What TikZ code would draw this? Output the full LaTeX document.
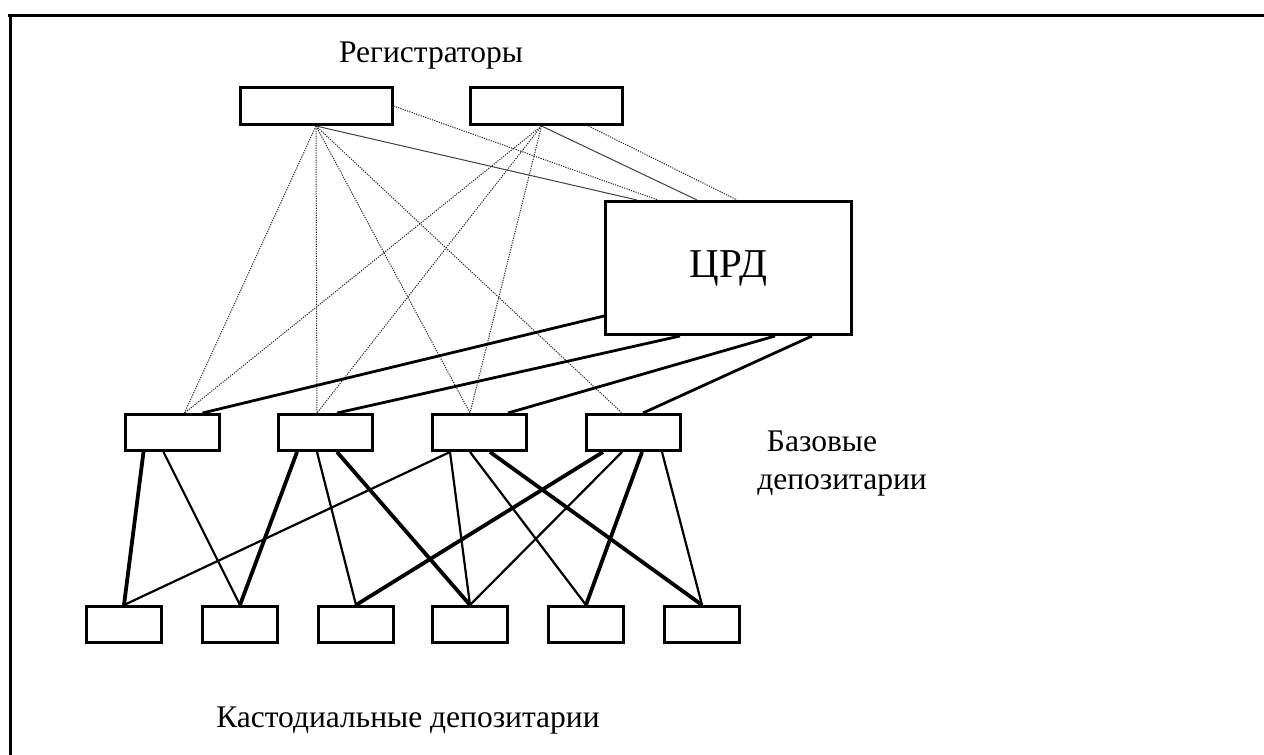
\documentclass[tikz,border=0pt]{standalone}
\usepackage{fontspec}
\setmainfont{Liberation Serif}
\begin{document}
\begin{tikzpicture}[x=1pt,y=-1pt,
  bx/.style={draw, line width=3pt, inner sep=0pt, fill=white},
  reg/.style={bx, minimum width=152pt, minimum height=37pt},
  crd/.style={bx, minimum width=246pt, minimum height=133pt},
  base/.style={bx, minimum width=94pt, minimum height=36pt},
  cust/.style={bx, minimum width=75pt, minimum height=36pt},
  lbl/.style={anchor=base, inner sep=0pt, font=\fontsize{31.5}{37}\selectfont},
  dotl/.style={line width=1pt, black!85, dash pattern=on 1.2pt off 1.2pt},
  faint/.style={line width=1pt, black!75},
  crdl/.style={line width=2.8pt},
  thinl/.style={line width=2.2pt},
  thickl/.style={line width=3.8pt},
  frame/.style={line width=3pt}
]
\useasboundingbox (0,0) rectangle (1264,755);
% frame
\coordinate (ftl) at (10,15);
\coordinate (ftr) at (1264,15);
\coordinate (fbl) at (10,755);
\draw[frame] ([xshift=-2pt]ftl) -- (ftr);
\draw[frame] (ftl) -- (fbl);

% labels
\node[lbl] (lreg) at (431,62) {Регистраторы};
\node[lbl] (lbas1) at (822,451) {Базовые};
\node[lbl] (lbas2) at (842,489) {депозитарии};
\node[lbl] (lcust) at (408,727) {Кастодиальные депозитарии};

% nodes
\node[reg] (r1) at (316,106) {};
\node[reg] (r2) at (546.5,106) {};
\node[crd, font=\fontsize{41}{48}\selectfont] (crd) at (728.5,268) {ЦРД};
\node[base] (b1) at (172,432.5) {};
\node[base] (b2) at (325.5,432.5) {};
\node[base] (b3) at (479.5,432.5) {};
\node[base] (b4) at (633.5,432.5) {};
\node[cust] (c1) at (124,624.5) {};
\node[cust] (c2) at (240,624.5) {};
\node[cust] (c3) at (356,624.5) {};
\node[cust] (c4) at (470,624.5) {};
\node[cust] (c5) at (586,624.5) {};
\node[cust] (c6) at (702,624.5) {};

% registrars to base (dotted)
\draw[dotl] (r1.south) -- ([xshift=61pt]b1.north west);
\draw[dotl] (r1.south) -- ([xshift=40pt]b2.north west);
\draw[dotl] (r1.south) -- ([xshift=39pt]b3.north west);
\draw[dotl] (r1.south) -- ([xshift=37pt]b4.north west);
\draw[dotl] ([xshift=-5pt]r2.south) -- ([xshift=61pt]b1.north west);
\draw[dotl] ([xshift=-5pt]r2.south) -- ([xshift=40pt]b2.north west);
\draw[dotl] ([xshift=-5pt]r2.south) -- ([xshift=39pt]b3.north west);
% registrars to CRD
\draw[faint] (r1.south) -- ([xshift=33pt]crd.north west);
\draw[dotl] (r1.east) -- ([xshift=54pt]crd.north west);
\draw[faint] ([xshift=-5pt]r2.south) -- ([xshift=93pt]crd.north west);
\draw[dotl] ([xshift=42pt]r2.south) -- ([xshift=133pt]crd.north west);

% CRD to base
\draw[crdl] ([yshift=20pt]crd.south west) -- ([xshift=79pt]b1.north west);
\draw[crdl] ([xshift=76pt]crd.south west) -- ([xshift=60pt]b2.north west);
\draw[crdl] ([xshift=171pt]crd.south west) -- ([xshift=77pt]b3.north west);
\draw[crdl] ([xshift=208pt]crd.south west) -- ([xshift=58pt]b4.north west);

% base to custodial
\draw[thickl] ([xshift=20pt]b1.south west) -- (c1.north);
\draw[thinl]  ([xshift=40pt]b1.south west) -- (c2.north);
\draw[thickl] ([xshift=20pt]b2.south west) -- (c2.north);
\draw[thinl]  ([xshift=40pt]b2.south west) -- (c3.north);
\draw[thickl] ([xshift=60pt]b2.south west) -- (c4.north);
\draw[thinl]  ([xshift=19pt]b3.south west) -- (c1.north);
\draw[thinl]  ([xshift=19pt]b3.south west) -- (c4.north);
\draw[thinl]  ([xshift=39pt]b3.south west) -- (c5.north);
\draw[thickl] ([xshift=59pt]b3.south west) -- (c6.north);
\draw[thickl] ([xshift=18pt]b4.south west) -- (c3.north);
\draw[thinl]  ([xshift=37pt]b4.south west) -- (c4.north);
\draw[thickl] ([xshift=57pt]b4.south west) -- (c5.north);
\draw[thinl]  ([xshift=77pt]b4.south west) -- (c6.north);
\end{tikzpicture}
\end{document}
